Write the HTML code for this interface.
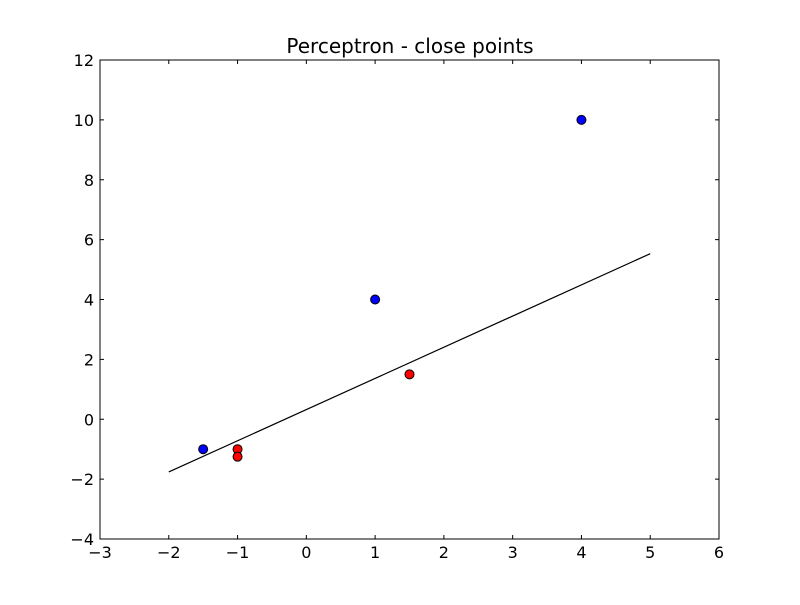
<!DOCTYPE html>
<html><head><meta charset="utf-8"><style>
html,body{margin:0;padding:0;background:#fff;}
svg text{font-family:"DejaVu Sans","Liberation Sans",sans-serif;}
</style></head><body>
<svg id="chart" width="800" height="600" xmlns="http://www.w3.org/2000/svg">
<rect width="800" height="600" fill="#fff"/>
<text x="410" y="53" font-size="20" text-anchor="middle">Perceptron - close points</text>
<g id="ticks"></g>
<g id="marks"></g>
<rect x="100" y="60" width="619" height="479" fill="none" stroke="#000" stroke-width="1"/>
</svg>
<script>
const xTicks=[-3,-2,-1,0,1,2,3,4,5,6];
const yTicks=[-4,-2,0,2,4,6,8,10,12];
const blueX=[-1.5,1,4];
const blueY=[-1,4,10];
const redX=[-1,-1,1.5];
const redY=[-1,-1.25,1.5];
const lineX=[-2,5];
const lineY=[-1.76,5.53];
const L=100,R=719,T=60,B=539;
const sx=v=>L+(v+3)/9*(R-L);
const sy=v=>B-(v+4)/16*(B-T);
const NS="http://www.w3.org/2000/svg";
const tg=document.getElementById('ticks'),mg=document.getElementById('marks');
function mk(tag,attrs,parent){const e=document.createElementNS(NS,tag);for(const k in attrs)e.setAttribute(k,attrs[k]);parent.appendChild(e);return e;}
const fmt=v=>v<0?'\u2212'+Math.abs(v):String(v);
xTicks.forEach(v=>{const x=sx(v);
 let a=mk('line',{x1:x,x2:x,y1:B,y2:B-4,stroke:'#000'},tg);
 
 
 let b=mk('line',{x1:x,x2:x,y1:T,y2:T+4,stroke:'#000'},tg);
 
 
 const t=mk('text',{x:x,y:B+19,'font-size':'16','text-anchor':'middle'},tg);t.textContent=fmt(v);
 
 
});
yTicks.forEach(v=>{const y=sy(v);
 let a=mk('line',{x1:L,x2:L+4,y1:y,y2:y,stroke:'#000'},tg);
 
 
 let b=mk('line',{x1:R,x2:R-4,y1:y,y2:y,stroke:'#000'},tg);
 
 
 const t=mk('text',{x:L-6,y:y+6,'font-size':'16','text-anchor':'end'},tg);t.textContent=fmt(v);
 
 
});
const ln=mk('line',{x1:sx(lineX[0]),y1:sy(lineY[0]),x2:sx(lineX[1]),y2:sy(lineY[1]),stroke:'#000','stroke-width':1.2},mg);


blueX.forEach((v,i)=>{const c=mk('circle',{cx:sx(v),cy:sy(blueY[i]),r:4.5,fill:'#0000ff',stroke:'#000','stroke-width':1},mg);
 
 
});
redX.forEach((v,i)=>{const c=mk('circle',{cx:sx(v),cy:sy(redY[i]),r:4.5,fill:'#ff0000',stroke:'#000','stroke-width':1},mg);
 
 
});
</script>
</body></html>
